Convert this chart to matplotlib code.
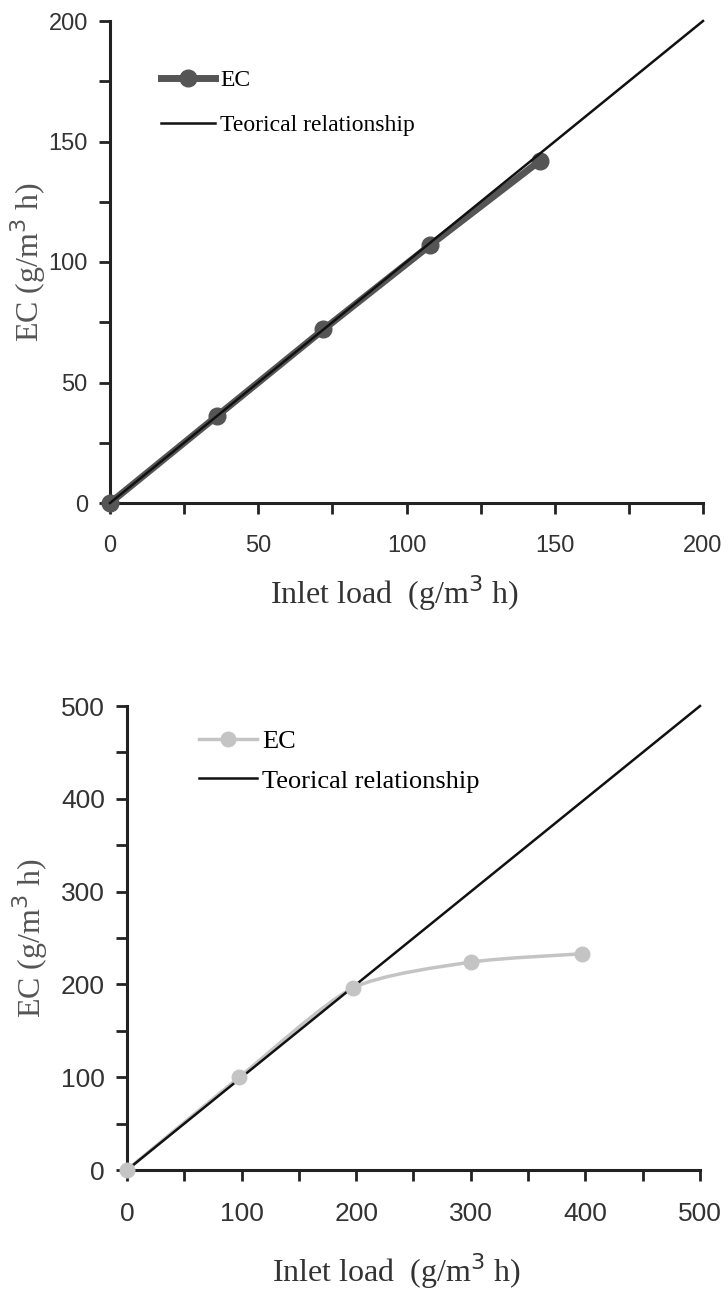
import numpy as np
import matplotlib as mpl
from matplotlib import pyplot as plt
from matplotlib.path import Path
from matplotlib.patches import PathPatch

# top panel data
top_inlet = [0, 36, 72, 108, 145]
top_ec    = [0, 36, 72, 107, 142]
top_lim   = 200

# bottom panel data
bot_inlet = [0, 98, 197, 300, 397]
bot_ec    = [0, 100, 196, 224, 233]
bot_lim   = 500

serif = ['Liberation Serif', 'DejaVu Serif']
sans  = ['Liberation Sans', 'DejaVu Sans']

mpl.rcParams['font.family'] = sans
mpl.rcParams['xtick.direction'] = 'out'
mpl.rcParams['ytick.direction'] = 'out'


def smooth_path(x, y, t=0.12):
    # bezier smoothing like a spreadsheet smoothed line
    verts = [(x[0], y[0])]
    codes = [Path.MOVETO]
    n = len(x)
    for i in range(n - 1):
        x0, y0 = (x[i - 1], y[i - 1]) if i > 0 else (x[i], y[i])
        x3, y3 = (x[i + 2], y[i + 2]) if i + 2 < n else (x[i + 1], y[i + 1])
        c1 = (x[i] + (x[i + 1] - x0) * t, y[i] + (y[i + 1] - y0) * t)
        c2 = (x[i + 1] - (x3 - x[i]) * t, y[i + 1] - (y3 - y[i]) * t)
        verts += [c1, c2, (x[i + 1], y[i + 1])]
        codes += [Path.CURVE4] * 3
    return Path(verts, codes)


def style_ax(ax, lim, major, minor, tsize, xlab_x, xlab_pad, ylab_pad):
    ax.set_xlim(0, lim)
    ax.set_ylim(0, lim)
    ax.spines['top'].set_visible(False)
    ax.spines['right'].set_visible(False)
    for s in ('left', 'bottom'):
        ax.spines[s].set_linewidth(2.2)
        ax.spines[s].set_color('#222222')
    ax.set_xticks(np.arange(0, lim + 1, major))
    ax.set_yticks(np.arange(0, lim + 1, major))
    ax.set_xticks(np.arange(0, lim + 1, minor), minor=True)
    ax.set_yticks(np.arange(0, lim + 1, minor), minor=True)
    ax.tick_params(which='both', length=8, width=2, color='#222222')
    ax.tick_params(which='major', labelsize=tsize, labelcolor='#333333')
    ax.tick_params(axis='x', which='major', pad=15)
    ax.tick_params(axis='y', which='major', pad=8)
    ax.set_xlabel('Inlet load  (g/m$^3$ h)', family=serif, fontsize=23,
                  color='#333333', labelpad=xlab_pad, x=xlab_x)
    ax.set_ylabel('EC (g/m$^3$ h)', family=serif, fontsize=23,
                  color='#555555', labelpad=ylab_pad)


fig = plt.figure(figsize=(7.28, 12.93), dpi=100)
W, H = 728, 1293

# Top panel ##########################
ax1 = fig.add_axes([110 / W, 1 - 503 / H, 593 / W, 482 / H])
ax1.plot(top_inlet, top_ec, color='#555555', lw=5, marker='o', ms=12,
         label='EC', zorder=3, clip_on=False)
ax1.plot([0, top_lim], [0, top_lim], color='#111111', lw=1.8,
         label='Teorical relationship', zorder=4, clip_on=False)
style_ax(ax1, top_lim, 50, 25, 17, 0.48, 12, 0)
ax1.legend(loc='upper left', bbox_to_anchor=(0.05, 0.943), frameon=False,
           prop={'family': serif, 'size': 17}, handlelength=2.3,
           handletextpad=0.2, labelspacing=1.0)

# Bottom panel #######################
ax2 = fig.add_axes([127 / W, 1 - 1170 / H, 573 / W, 464 / H])
ax2.add_patch(PathPatch(smooth_path(bot_inlet, bot_ec), fill=False,
                        edgecolor='#c4c4c4', lw=2.5, zorder=3))
ax2.plot(bot_inlet, bot_ec, color='#c4c4c4', lw=0, marker='o', ms=10.5,
         zorder=5, clip_on=False)
ax2.plot([], [], color='#c4c4c4', lw=2.5, marker='o', ms=10.5, label='EC')
ax2.plot([0, bot_lim], [0, bot_lim], color='#111111', lw=1.8,
         label='Teorical relationship', zorder=4, clip_on=False)
style_ax(ax2, bot_lim, 100, 50, 19, 0.47, 18, 8)
ax2.legend(loc='upper left', bbox_to_anchor=(0.084, 1.0), frameon=False,
           prop={'family': serif, 'size': 19}, handlelength=2.2,
           handletextpad=0.2, labelspacing=0.6)

fig.savefig('out.png', dpi=100)
